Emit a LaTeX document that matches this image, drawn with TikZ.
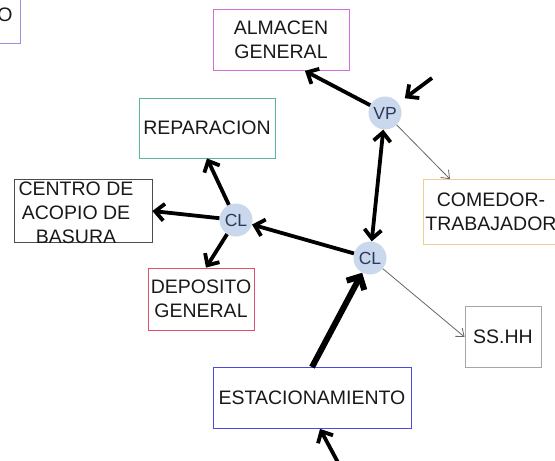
\documentclass[tikz,border=0pt]{standalone}
\usepackage{fontspec}
\setmainfont{Liberation Sans}
\usepackage{xcolor}
\usetikzlibrary{arrows.meta,positioning,calc}
\definecolor{hubfill}{HTML}{C9D8EC}
\definecolor{hubtext}{HTML}{2B3A58}
\definecolor{almacencol}{HTML}{D070D8}
\definecolor{repcol}{HTML}{5DB3A2}
\definecolor{depcol}{HTML}{E0506E}
\definecolor{comcol}{HTML}{F2CC94}
\definecolor{estcol}{HTML}{4A4AE0}
\definecolor{tlcol}{HTML}{9494DC}

\begin{document}
\begin{tikzpicture}[x=1pt,y=-1pt,font=\fontsize{19.5}{24}\selectfont]
        \tikzstyle{room}=[draw,line width=0.8pt,align=center,text=black!90,inner sep=0pt]
        \tikzstyle{hub}=[circle,fill=hubfill,minimum size=33pt,inner sep=0pt,text=hubtext,font=\fontsize{17.5}{18}\selectfont]
        \tikzstyle{flow}=[line width=3.8pt,-{Straight Barb[length=9pt,width=17pt]}]
        \tikzstyle{thinflow}=[line width=0.8pt,draw=black!60,-{Straight Barb[length=7pt,width=11pt]}]
        \useasboundingbox (0,0) rectangle (555,461);
        % rooms
        \node[room,draw=tlcol,minimum width=110pt,minimum height=70pt,anchor=south east] (tl) at (21,44) {};
        \node[anchor=east,text=black!90] (tltxt) at (16,15) {TO};
        \node[room,draw=almacencol,minimum width=136pt,minimum height=61pt] (almacen) at (281,40) {ALMACEN\\GENERAL};
        \node[room,draw=repcol,minimum width=136pt,minimum height=60pt] (reparacion) at (207,128) {REPARACION};
        \node[room,draw=black!70,minimum width=138pt,minimum height=63pt] (acopio) at (83,211) {};
        \node[align=center,text=black!90,inner sep=0pt] (acopiotxt) at (76,213) {CENTRO DE\\ACOPIO DE\\BASURA};
        \node[room,draw=depcol,minimum width=106pt,minimum height=62pt] (deposito) at (201,299) {DEPOSITO\\GENERAL};
        \node[room,draw=comcol,minimum width=136pt,minimum height=65pt] (comedor) at (491,212) {COMEDOR-\\TRABAJADOR};
        \node[room,draw=black!35,minimum width=76pt,minimum height=61pt] (sshh) at (503,337) {SS.HH};
        \node[room,draw=estcol,minimum width=198pt,minimum height=61pt] (estac) at (312,398) {ESTACIONAMIENTO};
        % junctions
        \node[hub] (vp) at (385,113) {VP};
        \node[hub] (cl1) at (236,220) {CL};
        \node[hub] (cl2) at (370,258) {CL};
        \coordinate (vpin) at (432,78);
        \coordinate (estin) at (342,470);
        % connections
        \draw[flow] (vp) -- ($(almacen.south)!0.35!(almacen.south east)$);
        \draw[flow,shorten >=8pt] (vpin) -- (vp);
        \draw[thinflow] (vp) -- ($(comedor.north west)!0.2!(comedor.north east)$);
        \draw[flow,{Straight Barb[length=9pt,width=17pt]}-{Straight Barb[length=9pt,width=17pt]}] (vp) -- (cl2);
        \draw[flow] (cl2) -- (cl1);
        \draw[flow] (cl1) -- (reparacion.south);
        \draw[flow] (cl1) -- (acopio.east);
        \draw[flow] (cl1) -- ($(deposito.north)+(5,0)$);
        \draw[thinflow] (cl2) -- (sshh.west);
        \draw[flow,line width=6pt,-{Straight Barb[length=10pt,width=20pt]}] (estac.north) -- (cl2);
        \draw[flow] (estin) -- ($(estac.south)+(8,0)$);
      \end{tikzpicture}
\end{document}
